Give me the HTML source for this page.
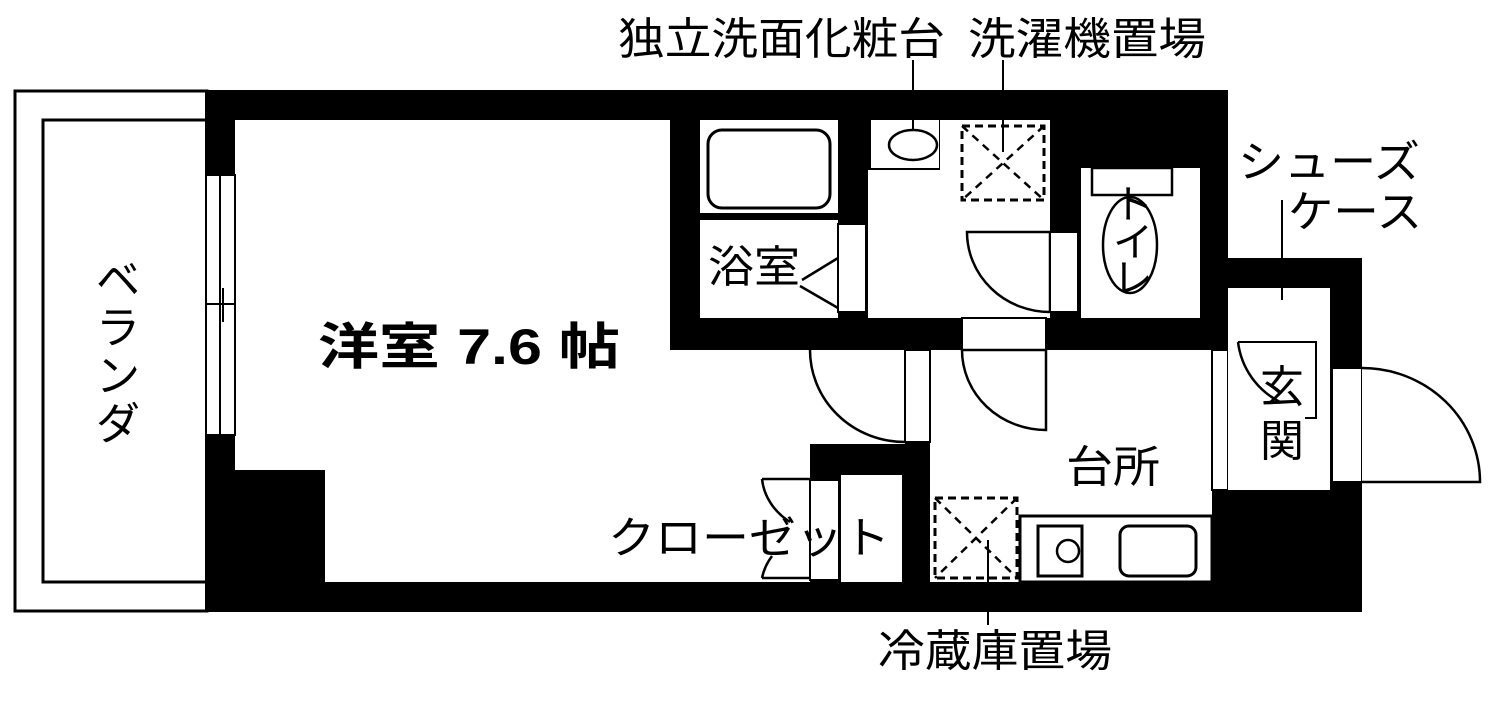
<!DOCTYPE html>
<html><head><meta charset="utf-8"><style>
html,body{margin:0;padding:0;background:#fff;}
svg{display:block}
text{font-family:"Liberation Sans","Noto Sans CJK JP",sans-serif;fill:#000}
</style></head><body>
<svg width="1500" height="712" viewBox="0 0 1500 712" xmlns="http://www.w3.org/2000/svg">
<rect x="15" y="91" width="192" height="520" fill="#fff" stroke="#000" stroke-width="3"/>
<rect x="43" y="120" width="164" height="462" fill="#fff" stroke="#000" stroke-width="3"/>
<polygon points="205,90 1228,90 1228,258 1362,258 1362,612 205,612" fill="#000"/>
<polygon points="235,120 670,120 670,350 905,350 905,444 810,444 810,582 325,582 325,470 235,470" fill="#fff"/>
<rect x="206" y="175" width="29" height="260" fill="#fff" stroke="#000" stroke-width="2"/>
<line x1="220" y1="175" x2="220" y2="435" stroke="#000" stroke-width="2"/>
<line x1="206" y1="304" x2="235" y2="304" stroke="#000" stroke-width="2"/>
<line x1="223" y1="288" x2="223" y2="322" stroke="#000" stroke-width="2"/>
<rect x="700" y="120" width="138" height="93" fill="#fff"/>
<rect x="708" y="130" width="122" height="78" rx="14" fill="#fff" stroke="#000" stroke-width="3"/>
<rect x="700" y="220" width="138" height="98" fill="#fff"/>
<rect x="838" y="224" width="28" height="88" fill="#fff" stroke="#000" stroke-width="2"/>
<line x1="802" y1="280" x2="838" y2="258" stroke="#000" stroke-width="2.5"/>
<line x1="800" y1="286" x2="838" y2="308" stroke="#000" stroke-width="2.5"/>
<rect x="868" y="170" width="182" height="148" fill="#fff"/>
<rect x="940" y="120" width="110" height="60" fill="#fff"/>
<rect x="871" y="120" width="68" height="48" fill="#fff"/>
<ellipse cx="913" cy="145" rx="24" ry="15" fill="#fff" stroke="#000" stroke-width="2.5"/>
<line x1="913" y1="60" x2="913" y2="130" stroke="#000" stroke-width="2"/>
<rect x="962" y="126" width="82" height="74" fill="none" stroke="#000" stroke-width="3" stroke-dasharray="8,5"/>
<line x1="962" y1="126" x2="1044" y2="200" stroke="#000" stroke-width="2.5" stroke-dasharray="8,6"/>
<line x1="1044" y1="126" x2="962" y2="200" stroke="#000" stroke-width="2.5" stroke-dasharray="8,6"/>
<line x1="1003" y1="60" x2="1003" y2="152" stroke="#000" stroke-width="2"/>
<path d="M967,232 L1050,232 L1050,312 A83,80 0 0 1 967,232 Z" fill="#fff" stroke="#000" stroke-width="2.5"/>
<rect x="1050" y="232" width="28" height="80" fill="#fff" stroke="#000" stroke-width="2"/>
<rect x="1081" y="168" width="119" height="150" fill="#fff"/>
<rect x="1092" y="168" width="80" height="27" fill="#fff" stroke="#000" stroke-width="2.5"/>
<ellipse cx="1130" cy="245" rx="27" ry="48" fill="none" stroke="#000" stroke-width="2.5"/>
<rect x="930" y="350" width="282" height="232" fill="#fff"/>
<rect x="962" y="318" width="84" height="32" fill="#fff" stroke="#000" stroke-width="2"/>
<path d="M962,350 L1046,350 L1046,430 A84,80 0 0 1 962,350" fill="#fff" stroke="#000" stroke-width="2.5"/>
<rect x="905" y="350" width="25" height="92" fill="#fff" stroke="#000" stroke-width="2"/>
<path d="M810,350 A95,92 0 0 0 905,442" fill="none" stroke="#000" stroke-width="2.5"/>
<rect x="1020" y="516" width="192" height="66" fill="#fff" stroke="#000" stroke-width="3"/>
<rect x="1038" y="526" width="44" height="50" fill="none" stroke="#000" stroke-width="3"/>
<circle cx="1068" cy="551" r="11" fill="none" stroke="#000" stroke-width="2.5"/>
<rect x="1120" y="526" width="76" height="50" rx="9" fill="none" stroke="#000" stroke-width="3"/>
<rect x="935" y="498" width="82" height="80" fill="none" stroke="#000" stroke-width="3" stroke-dasharray="8,5"/>
<line x1="935" y1="498" x2="1017" y2="578" stroke="#000" stroke-width="2.5" stroke-dasharray="8,6"/>
<line x1="1017" y1="498" x2="935" y2="578" stroke="#000" stroke-width="2.5" stroke-dasharray="8,6"/>
<line x1="988" y1="540" x2="988" y2="625" stroke="#000" stroke-width="2"/>
<rect x="1212" y="350" width="16" height="140" fill="#fff" stroke="#000" stroke-width="2"/>
<rect x="1228" y="288" width="102" height="202" fill="#fff"/>
<path d="M1238,342 A78,78 0 0 0 1280,402" fill="none" stroke="#000" stroke-width="2.5"/>
<polyline points="1238,342 1316,342 1316,418 1305,418" fill="none" stroke="#000" stroke-width="2"/>
<line x1="1282" y1="200" x2="1282" y2="300" stroke="#000" stroke-width="2"/>
<rect x="1332" y="368" width="30" height="114" fill="#fff" stroke="#000" stroke-width="2"/>
<path d="M1362,368 A118,114 0 0 1 1480,482 L1362,482" fill="#fff" stroke="#000" stroke-width="2.5"/>
<rect x="810" y="480" width="29" height="100" fill="#fff" stroke="#000" stroke-width="2"/>
<rect x="841" y="475" width="61" height="107" fill="#fff"/>
<path d="M762,479 L810,479 M762,479 A70,60 0 0 0 790,522 M762,578 L810,578 M762,578 A70,60 0 0 1 772,556" fill="none" stroke="#000" stroke-width="2.5"/>
<!-- labels -->
<text x="708" y="282" font-size="44" textLength="92" lengthAdjust="spacingAndGlyphs">浴室</text>
<text x="1133" y="218" font-size="40" text-anchor="middle">ト</text>
<text x="1133" y="256" font-size="40" text-anchor="middle">イ</text>
<text x="1133" y="292" font-size="40" text-anchor="middle">レ</text>
<text x="1066" y="482" font-size="44" textLength="94" lengthAdjust="spacingAndGlyphs">台所</text>
<text x="1282" y="402" font-size="44" text-anchor="middle">玄</text>
<text x="1282" y="456" font-size="44" text-anchor="middle">関</text>
<text x="608" y="553" font-size="44" textLength="282" lengthAdjust="spacingAndGlyphs">クローゼット</text>
<text x="318" y="364" font-size="50" font-weight="bold" textLength="302" lengthAdjust="spacingAndGlyphs">洋室 7.6 帖</text>
<text x="118" y="295" font-size="44" text-anchor="middle">ベ</text>
<text x="118" y="343" font-size="44" text-anchor="middle">ラ</text>
<text x="118" y="391" font-size="44" text-anchor="middle">ン</text>
<text x="118" y="439" font-size="44" text-anchor="middle">ダ</text>
<text x="618" y="54" font-size="44" textLength="327" lengthAdjust="spacingAndGlyphs">独立洗面化粧台</text>
<text x="968" y="54" font-size="44" textLength="238" lengthAdjust="spacingAndGlyphs">洗濯機置場</text>
<text x="1238" y="177" font-size="44" textLength="182" lengthAdjust="spacingAndGlyphs">シューズ</text>
<text x="1288" y="227" font-size="44" textLength="134" lengthAdjust="spacingAndGlyphs">ケース</text>
<text x="878" y="666" font-size="44" textLength="234" lengthAdjust="spacingAndGlyphs">冷蔵庫置場</text>
</svg>
</body></html>
